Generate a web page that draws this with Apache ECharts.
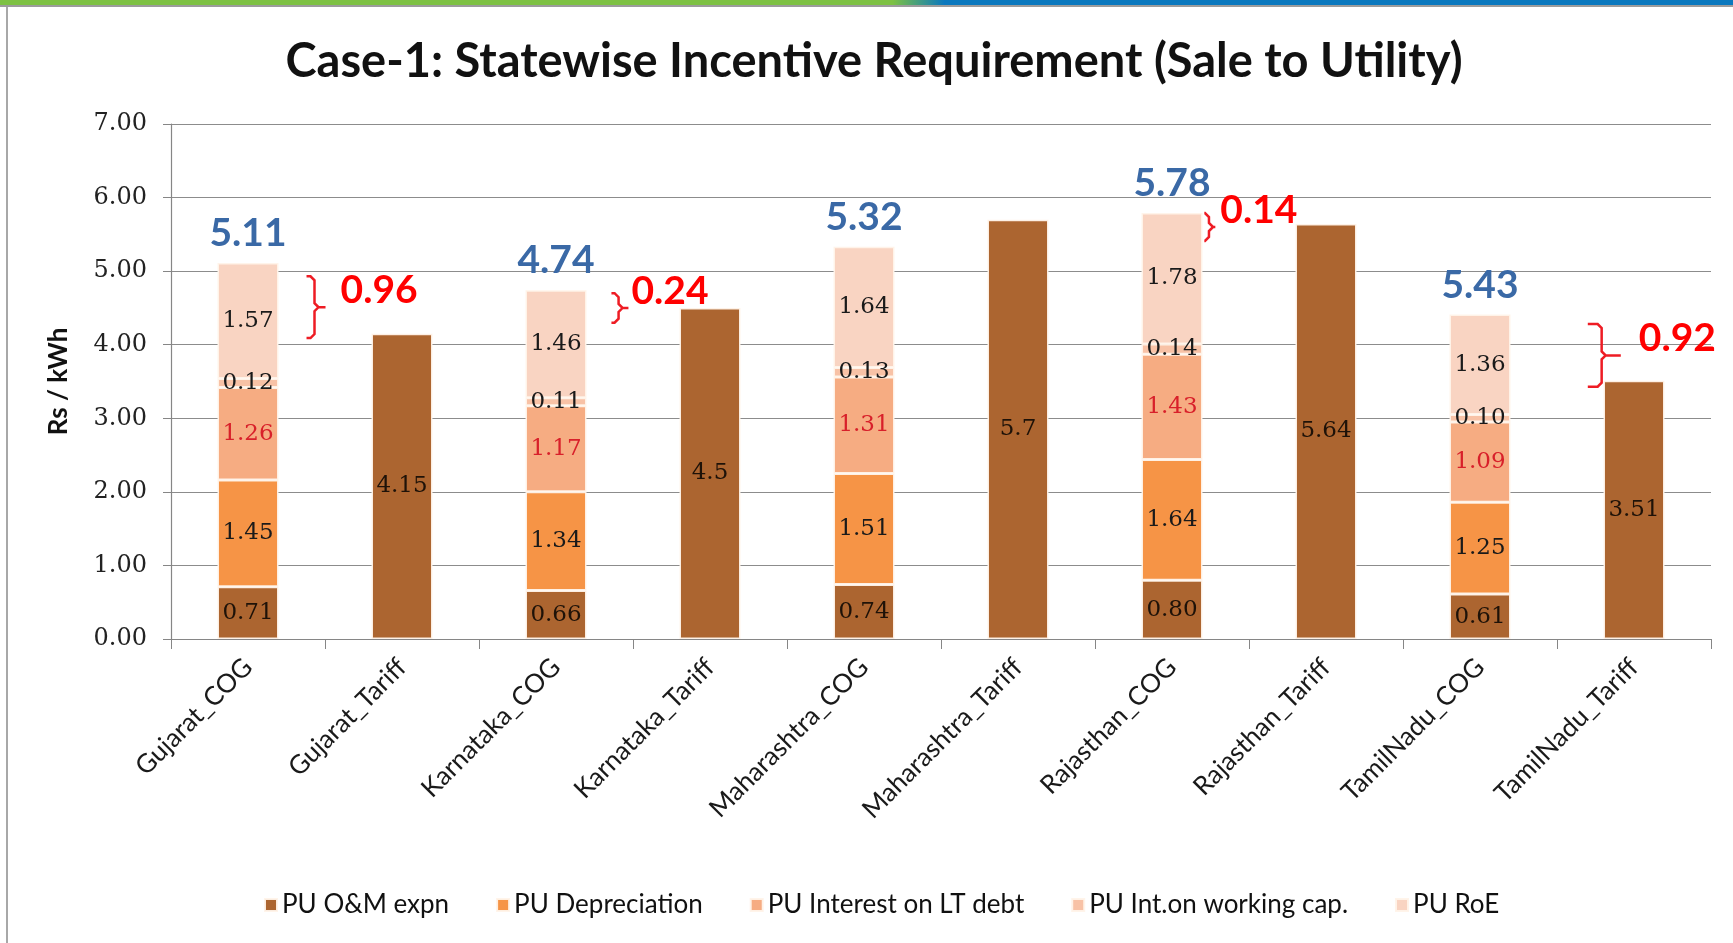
<!DOCTYPE html>
<html>
<head>
<meta charset="utf-8">
<title>Case-1: Statewise Incentive Requirement</title>
<script src="https://cdn.jsdelivr.net/npm/echarts@6/dist/echarts.min.js"></script>
<style>
  html, body { margin: 0; padding: 0; background: #fff; }
  #chart { width: 1733px; height: 943px; }
</style>
</head>
<body>
<div id="chart"></div>
<script>
// categories and values (Rs / kWh)
const categories = ['Gujarat_COG', 'Gujarat_Tariff', 'Karnataka_COG', 'Karnataka_Tariff',
    'Maharashtra_COG', 'Maharashtra_Tariff', 'Rajasthan_COG', 'Rajasthan_Tariff',
    'TamilNadu_COG', 'TamilNadu_Tariff'];
// tariff bars are drawn in the O&M colour, so they sit in the first series
const omExpn = [0.71, 4.15, 0.66, 4.5, 0.74, 5.7, 0.80, 5.64, 0.61, 3.51];
const depreciation = [1.45, '-', 1.34, '-', 1.51, '-', 1.64, '-', 1.25, '-'];
const interestLT = [1.26, '-', 1.17, '-', 1.31, '-', 1.43, '-', 1.09, '-'];
const intWorkingCap = [0.12, '-', 0.11, '-', 0.13, '-', 0.14, '-', 0.10, '-'];
const roe = [1.57, '-', 1.46, '-', 1.64, '-', 1.78, '-', 1.36, '-'];
const totalLabels = ['5.11', '', '4.74', '', '5.32', '', '5.78', '', '5.43', ''];
const yTicks = [0, 1, 2, 3, 4, 5, 6, 7];

// gap between cost and tariff (the red braces)
const gapIndex = [0, 2, 6, 8];
const gapTop = [4.93, 4.70, 5.79, 4.28];
const gapBottom = [4.09, 4.30, 5.41, 3.43];
const gapLabels = ['0.96', '0.24', '0.14', '0.92'];

// brace layout (band fractions / px), not data
const braceDx = [0.38, 0.36, 0.21, 0.70];
const braceW = [19, 17, 11, 33];
const braceTextGap = [15, 3, 5, 18];

const serif = '"DejaVu Serif", "Liberation Serif", serif';
const sans = 'Lato, "Noto Sans", sans-serif';

const isTariff = i => categories[i].indexOf('Tariff') > -1;

const chartDom = document.getElementById('chart');
const myChart = echarts.init(chartDom);

const segLabel = (color) => ({
    show: true,
    position: 'inside',
    color: color,
    fontFamily: serif,
    fontSize: 23,
    formatter: p => isTariff(p.dataIndex) ? String(p.value) : Number(p.value).toFixed(2)
});

const barSeries = (name, data, color, labelColor) => ({
    name: name,
    type: 'bar',
    stack: 'cost',
    data: data,
    barWidth: 61,
    itemStyle: {
        color: color,
        borderColor: 'rgba(255,243,233,0.95)',
        borderWidth: 1.5
    },
    label: segLabel(labelColor),
    emphasis: { disabled: true }
});

const option = {
    animation: false,
    backgroundColor: '#fff',
    title: {
        text: 'Case-1: Statewise Incentive Requirement (Sale to Utility)',
        left: 869,
        textAlign: 'center',
        top: 33,
        textStyle: { fontFamily: sans, fontWeight: 'bold', fontSize: 47, color: '#111' }
    },
    legend: {
        data: ['PU O&M expn', 'PU Depreciation', 'PU Interest on LT debt', 'PU Int.on working cap.', 'PU RoE'],
        top: 887,
        left: 259,
        icon: 'rect',
        itemWidth: 12,
        itemHeight: 12,
        itemGap: 47,
        textStyle: { fontFamily: sans, fontSize: 26, color: '#111' }
    },
    grid: { left: 171, right: 22, top: 124, bottom: 304 },
    xAxis: {
        type: 'category',
        data: categories,
        axisLine: { lineStyle: { color: '#868686', width: 1.2 } },
        axisTick: { show: true, length: 10, lineStyle: { color: '#868686' } },
        axisLabel: {
            interval: 0,
            rotate: 45,
            margin: 24,
            fontFamily: sans,
            fontSize: 26,
            color: '#1a1a1a'
        }
    },
    yAxis: {
        type: 'value',
        min: 0,
        max: 7,
        interval: 1,
        name: 'Rs / kWh',
        nameLocation: 'middle',
        nameGap: 99,
        nameTextStyle: { fontFamily: sans, fontWeight: 'bold', fontSize: 26, color: '#111' },
        axisLine: { show: true, lineStyle: { color: '#868686', width: 1.2 } },
        axisTick: { show: true, length: 8, lineStyle: { color: '#868686' } },
        axisLabel: {
            margin: 24,
            fontFamily: serif,
            fontSize: 24,
            color: '#222',
            formatter: v => yTicks.indexOf(v) > -1 ? v.toFixed(2) : ''
        },
        splitLine: { lineStyle: { color: '#8c8c8c', width: 1.2 } }
    },
    series: [
        barSeries('PU O&M expn', omExpn, '#AC6530', '#1e1208'),
        barSeries('PU Depreciation', depreciation, '#F69446', '#1a1a1a'),
        barSeries('PU Interest on LT debt', interestLT, '#F6AC82', '#D8202A'),
        barSeries('PU Int.on working cap.', intWorkingCap, '#F8C2A6', '#1a1a1a'),
        barSeries('PU RoE', roe, '#F9D4C2', '#1a1a1a'),
        {
            name: 'total',
            type: 'bar',
            stack: 'cost',
            barWidth: 61,
            data: totalLabels.map(t => t ? 0 : '-'),
            itemStyle: { color: 'transparent' },
            label: {
                show: true,
                position: 'top',
                distance: 10,
                fontFamily: sans,
                fontWeight: 'bold',
                fontSize: 39,
                color: '#3A69A6',
                formatter: p => totalLabels[p.dataIndex]
            },
            emphasis: { disabled: true }
        },
        {
            name: 'gap',
            type: 'custom',
            clip: false,
            z: 10,
            data: gapIndex.map((c, i) => [c, gapTop[i], gapBottom[i]]),
            encode: { x: 0, y: [1, 2] },
            renderItem: (params, api) => {
                const i = params.dataIndex;
                const top = api.coord([api.value(0), api.value(1)]);
                const bot = api.coord([api.value(0), api.value(2)]);
                const band = api.size([1, 0])[0];
                const x0 = top[0] + braceDx[i] * band;
                const w = braceW[i];
                const x1 = x0 + w * 0.42;
                const x2 = x0 + w;
                const y0 = top[1], y1 = bot[1], ym = (y0 + y1) / 2;
                const r = 4;
                return {
                    type: 'group',
                    children: [
                        {
                            type: 'polyline',
                            shape: {
                                points: [[x0, y0], [x1 - r, y0], [x1, y0 + r], [x1, ym - r],
                                    [x1 + r, ym], [x2, ym], [x1 + r, ym], [x1, ym + r],
                                    [x1, y1 - r], [x1 - r, y1], [x0, y1]]
                            },
                            style: { stroke: '#EE1C24', lineWidth: 2.5, fill: null }
                        },
                        {
                            type: 'text',
                            style: {
                                text: gapLabels[i],
                                x: x2 + braceTextGap[i],
                                y: ym - 17,
                                fill: '#FF0000',
                                font: 'bold 39px ' + sans,
                                align: 'left',
                                verticalAlign: 'middle'
                            }
                        }
                    ]
                };
            }
        }
    ],
    graphic: [
        {
            type: 'rect',
            left: 0, top: 0,
            shape: { width: 1733, height: 5 },
            style: {
                fill: new echarts.graphic.LinearGradient(0, 0, 1, 0, [
                    { offset: 0, color: '#7DC143' },
                    { offset: 0.515, color: '#7DC143' },
                    { offset: 0.545, color: '#0A78BE' },
                    { offset: 1, color: '#0A78BE' }
                ])
            },
            silent: true
        },
        {
            type: 'rect',
            left: 0, top: 5,
            shape: { width: 1733, height: 2 },
            style: { fill: '#9c9c9c' },
            silent: true
        },
        {
            type: 'rect',
            left: 6, top: 7,
            shape: { width: 2, height: 936 },
            style: { fill: '#a8a8a8' },
            silent: true
        }
    ]
};

myChart.setOption(option);
window.addEventListener('resize', () => myChart.resize());
</script>
</body>
</html>
